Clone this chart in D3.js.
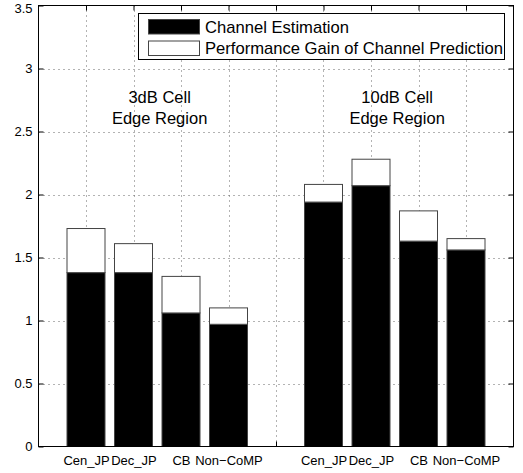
<!DOCTYPE html>
<html>
<head>
<meta charset="utf-8">
<script src="https://cdn.jsdelivr.net/npm/d3@7"></script>
<style>
    body { margin: 0; background: #fff; }
    svg { display: block; font-family: "Liberation Sans", Arial, Helvetica, sans-serif; }
</style>
</head>
<body>
<div id="chart"></div>
<script>

// bar positions on the x axis (slot 5 is the gap between the two groups)
const positions = [1, 2, 3, 4, 6, 7, 8, 9];
const estimation = [1.38, 1.38, 1.06, 0.97, 1.94, 2.07, 1.63, 1.56];
const gain = [0.35, 0.23, 0.29, 0.13, 0.14, 0.21, 0.24, 0.09];

const xTicks = [1, 2, 3, 4, 5, 6, 7, 8, 9];
const xTickLabels = ["Cen_JP", "Dec_JP", "CB", "Non\u2212CoMP", "", "Cen_JP", "Dec_JP", "CB", "Non\u2212CoMP"];
const yTicks = [0, 0.5, 1, 1.5, 2, 2.5, 3, 3.5];

const legendLabels = ["Channel Estimation", "Performance Gain of Channel Prediction"];

const annotations = [
    { x: 2.55, lines: ["3dB Cell", "Edge Region"] },
    { x: 7.55, lines: ["10dB Cell", "Edge Region"] }
];

const width = 523;
const height = 473;

const plotLeft = 38.5, plotRight = 513.5, plotTop = 5.5, plotBottom = 446.5;

const svg = d3.select("#chart")
    .append("svg")
    .attr("width", width)
    .attr("height", height);

const x = d3.scaleLinear()
    .domain([0, 10])
    .range([plotLeft, plotRight]);

const y = d3.scaleLinear()
    .domain([0, 3.5])
    .range([plotBottom, plotTop]);

const barWidth = (x(1) - x(0)) * 0.8;

// dotted grid
const grid = svg.append("g")
    .attr("stroke", "#666")
    .attr("stroke-width", 1)
    .attr("stroke-dasharray", "1,4");

grid.selectAll("line.h")
    .data(yTicks.filter(function(d) { return d > 0 && d < 3.5; }))
    .enter()
    .append("line")
    .attr("x1", plotLeft)
    .attr("x2", plotRight)
    .attr("y1", function(d) { return Math.round(y(d)) + 0.5; })
    .attr("y2", function(d) { return Math.round(y(d)) + 0.5; });

grid.selectAll("line.v")
    .data(xTicks)
    .enter()
    .append("line")
    .attr("x1", function(d) { return Math.round(x(d)) + 0.5; })
    .attr("x2", function(d) { return Math.round(x(d)) + 0.5; })
    .attr("y1", plotTop)
    .attr("y2", plotBottom);

// stacked bars
const bars = svg.append("g");

bars.selectAll("rect.est")
    .data(positions)
    .enter()
    .append("rect")
    .attr("x", function(d) { return x(d) - barWidth / 2; })
    .attr("y", function(d, i) { return y(estimation[i]); })
    .attr("width", barWidth)
    .attr("height", function(d, i) { return y(0) - y(estimation[i]); })
    .attr("fill", "#000")
    .attr("stroke", "#444")
    .attr("stroke-width", 1);

bars.selectAll("rect.gain")
    .data(positions)
    .enter()
    .append("rect")
    .attr("x", function(d) { return x(d) - barWidth / 2; })
    .attr("y", function(d, i) { return y(estimation[i] + gain[i]); })
    .attr("width", barWidth)
    .attr("height", function(d, i) { return y(estimation[i]) - y(estimation[i] + gain[i]); })
    .attr("fill", "#fff")
    .attr("stroke", "#444")
    .attr("stroke-width", 1);

// axes, ticks pointing inwards like matlab
const fontSize = 13;

svg.append("g")
    .attr("transform", "translate(0," + plotBottom + ")")
    .call(d3.axisBottom(x)
        .tickValues(xTicks)
        .tickFormat(function(d, i) { return xTickLabels[i]; })
        .tickSizeInner(-5)
        .tickSizeOuter(0)
        .tickPadding(9));

const yAxis = svg.append("g")
    .attr("transform", "translate(" + plotLeft + ",0)")
    .call(d3.axisLeft(y)
        .tickValues(yTicks)
        .tickFormat(d3.format("~g"))
        .tickSizeInner(-5)
        .tickSizeOuter(0)
        .tickPadding(6));

// keep the top label inside the picture
yAxis.selectAll(".tick text")
    .filter(function(d) { return d === 3.5; })
    .attr("dy", "0.55em");

svg.append("g")
    .attr("transform", "translate(0," + plotTop + ")")
    .call(d3.axisTop(x)
        .tickValues(xTicks)
        .tickFormat("")
        .tickSizeInner(-5)
        .tickSizeOuter(0));

svg.append("g")
    .attr("transform", "translate(" + plotRight + ",0)")
    .call(d3.axisRight(y)
        .tickValues(yTicks)
        .tickFormat("")
        .tickSizeInner(-5)
        .tickSizeOuter(0));

svg.selectAll(".domain").remove();
svg.selectAll(".tick line").attr("stroke", "#000");
svg.selectAll(".tick text")
    .attr("fill", "#000")
    .style("font-size", fontSize + "px")
    .style("font-family", "'Liberation Sans', Arial, sans-serif");

// axes box
svg.append("rect")
    .attr("x", plotLeft)
    .attr("y", plotTop)
    .attr("width", plotRight - plotLeft)
    .attr("height", plotBottom - plotTop)
    .attr("fill", "none")
    .attr("stroke", "#000")
    .attr("stroke-width", 1);

// region annotations
annotations.forEach(function(a) {
    const t = svg.append("text")
        .attr("text-anchor", "middle")
        .attr("font-size", 16.5)
        .attr("fill", "#000");

    a.lines.forEach(function(line, i) {
        t.append("tspan")
            .attr("x", x(a.x))
            .attr("y", 102.5 + i * 21)
            .text(line);
    });
});

// legend
const legend = svg.append("g");

legend.append("rect")
    .attr("x", 138.5)
    .attr("y", 13.5)
    .attr("width", 366)
    .attr("height", 46)
    .attr("fill", "#fff")
    .attr("stroke", "#000")
    .attr("stroke-width", 1);

const legendFills = ["#000", "#fff"];

legendLabels.forEach(function(label, i) {
    legend.append("rect")
        .attr("x", 148.5)
        .attr("y", 19.5 + i * 21.5)
        .attr("width", 51)
        .attr("height", 14.5)
        .attr("fill", legendFills[i])
        .attr("stroke", "#444")
        .attr("stroke-width", 1);

    legend.append("text")
        .attr("x", 205)
        .attr("y", 32.5 + i * 21.5)
        .attr("font-size", 16.6)
        .attr("fill", "#000")
        .text(label);
});

</script>
</body>
</html>
